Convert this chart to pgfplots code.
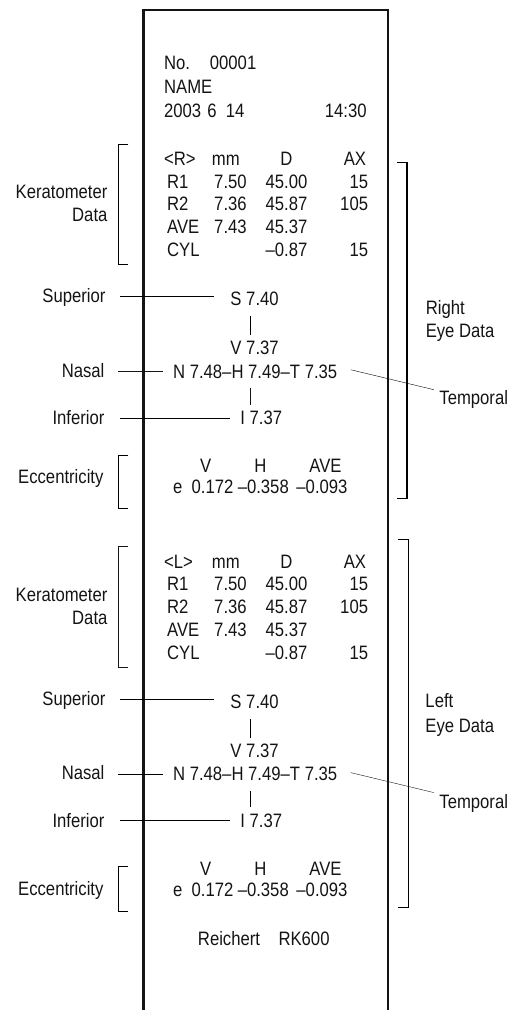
\documentclass[border=0pt]{standalone}
\usepackage{pgfplots}
\pgfplotsset{compat=1.18}
\usepackage{fontspec}
\setmainfont{Liberation Sans}[FakeStretch=0.86]
\definecolor{ink}{HTML}{141414}
\tikzset{lw/.style={anchor=base west}, le/.style={anchor=base east}, lc/.style={anchor=base}}
\begin{document}
\begin{tikzpicture}
\begin{axis}[scale only axis, width=528bp, height=1011bp,
  xmin=0, xmax=528, ymin=0, ymax=1011, y dir=reverse,
  hide axis, clip=false,
  cycle list={{ink, solid, no markers, line width=1.3bp}},
  nodes={font=\fontsize{19.5bp}{21bp}\selectfont, text=ink, inner sep=0pt, outer sep=0pt}]
\path (rel axis cs:0,0) rectangle (rel axis cs:1,1);
% paper strip
\addplot+[line width=2.6bp] coordinates {(144,1015) (144,10) (390,10) (390,1015)};
% ---------- header ----------
\node[lw] at (axis cs:165,70) {No.};
\node[lw] at (axis cs:211,70) {00001};
\node[lw] at (axis cs:165,94) {NAME};
\node[lw] at (axis cs:165,118) {2003};
\node[lw] at (axis cs:208.5,118) {6};
\node[lw] at (axis cs:227,118) {14};
\node[le] at (axis cs:368.5,118) {14:30};
% ---------- brackets ----------
\addplot coordinates {(129,145) (119,145) (119,266) (129,266)};
\addplot coordinates {(129,458) (119,458) (119,511) (129,511)};
\addplot coordinates {(399,163) (409,163) (409,501) (399,501)};
\addplot coordinates {(129,549) (119,549) (119,671) (129,671)};
\addplot coordinates {(129,871) (119,871) (119,916) (129,916)};
\addplot coordinates {(400,542) (410,542) (410,912) (400,912)};
% ---------- connectors (right eye) ----------
\addplot coordinates {(120.7,297.7) (215,297.7)};
\addplot coordinates {(119,373) (164,373)};
\addplot coordinates {(120.7,420) (231.7,420)};
\addplot coordinates {(352.7,371.7) (436,391.7)};
\addplot coordinates {(251.7,318) (251.7,336.7)};
\addplot coordinates {(251.7,390) (251.7,406.7)};
% ---------- connectors (left eye) ----------
\addplot coordinates {(120.7,702.7) (215,702.7)};
\addplot coordinates {(119,778) (164,778)};
\addplot coordinates {(120.7,825) (231.7,825)};
\addplot coordinates {(352.7,776.7) (436,796.7)};
\addplot coordinates {(251.7,723) (251.7,741.7)};
\addplot coordinates {(251.7,795) (251.7,811.7)};
% ---------- right eye text ----------
\node[lw] at (axis cs:165,166) {<R>};
\node[lw] at (axis cs:213,166) {mm};
\node[lc] at (axis cs:288,166) {D};
\node[le] at (axis cs:368,166) {AX};
\node[lw] at (axis cs:168,189) {R1};
\node[le] at (axis cs:248,189) {7.50};
\node[le] at (axis cs:309,189) {45.00};
\node[le] at (axis cs:370,189) {15};
\node[lw] at (axis cs:168,212) {R2};
\node[le] at (axis cs:248,212) {7.36};
\node[le] at (axis cs:309,212) {45.87};
\node[le] at (axis cs:370,212) {105};
\node[lw] at (axis cs:168,235) {AVE};
\node[le] at (axis cs:248,235) {7.43};
\node[le] at (axis cs:309,235) {45.37};
\node[lw] at (axis cs:168,258) {CYL};
\node[le] at (axis cs:309,258) {--0.87};
\node[le] at (axis cs:370,258) {15};
\node[le] at (axis cs:108,200) {Keratometer};
\node[le] at (axis cs:108,223) {Data};
\node[le] at (axis cs:106,304) {Superior};
\node[lw] at (axis cs:231.7,307) {S 7.40};
\node[lw] at (axis cs:231.7,356) {V 7.37};
\node[lw] at (axis cs:174,380) {N 7.48--H 7.49--T 7.35};
\node[le] at (axis cs:105,379) {Nasal};
\node[lw] at (axis cs:241.7,427) {I 7.37};
\node[le] at (axis cs:105,427) {Inferior};
\node[lw] at (axis cs:428,316.5) {Right};
\node[lw] at (axis cs:428,339.5) {Eye Data};
\node[lw] at (axis cs:441.7,406.5) {Temporal};
\node[lc] at (axis cs:206.7,475) {V};
\node[lc] at (axis cs:261.7,475) {H};
\node[le] at (axis cs:343.3,475) {AVE};
\node[lw] at (axis cs:174,496.5) {e};
\node[lw] at (axis cs:192.7,496.5) {0.172};
\node[lw] at (axis cs:239,496.5) {--0.358};
\node[le] at (axis cs:349.3,496.5) {--0.093};
\node[le] at (axis cs:104,486.5) {Eccentricity};
% ---------- left eye text ----------
\node[lw] at (axis cs:165,571) {<L>};
\node[lw] at (axis cs:213,571) {mm};
\node[lc] at (axis cs:288,571) {D};
\node[le] at (axis cs:368,571) {AX};
\node[lw] at (axis cs:168,594) {R1};
\node[le] at (axis cs:248,594) {7.50};
\node[le] at (axis cs:309,594) {45.00};
\node[le] at (axis cs:370,594) {15};
\node[lw] at (axis cs:168,617) {R2};
\node[le] at (axis cs:248,617) {7.36};
\node[le] at (axis cs:309,617) {45.87};
\node[le] at (axis cs:370,617) {105};
\node[lw] at (axis cs:168,640) {AVE};
\node[le] at (axis cs:248,640) {7.43};
\node[le] at (axis cs:309,640) {45.37};
\node[lw] at (axis cs:168,663) {CYL};
\node[le] at (axis cs:309,663) {--0.87};
\node[le] at (axis cs:370,663) {15};
\node[le] at (axis cs:108,605) {Keratometer};
\node[le] at (axis cs:108,628) {Data};
\node[le] at (axis cs:106,709) {Superior};
\node[lw] at (axis cs:231.7,712) {S 7.40};
\node[lw] at (axis cs:231.7,761) {V 7.37};
\node[lw] at (axis cs:174,785) {N 7.48--H 7.49--T 7.35};
\node[le] at (axis cs:105,784) {Nasal};
\node[lw] at (axis cs:241.7,832) {I 7.37};
\node[le] at (axis cs:105,832) {Inferior};
\node[lw] at (axis cs:427.7,711.5) {Left};
\node[lw] at (axis cs:427.7,736) {Eye Data};
\node[lw] at (axis cs:441.7,813) {Temporal};
\node[lc] at (axis cs:206.7,880) {V};
\node[lc] at (axis cs:261.7,880) {H};
\node[le] at (axis cs:343.3,880) {AVE};
\node[lw] at (axis cs:174,901.5) {e};
\node[lw] at (axis cs:192.7,901.5) {0.172};
\node[lw] at (axis cs:239,901.5) {--0.358};
\node[le] at (axis cs:349.3,901.5) {--0.093};
\node[le] at (axis cs:104,900) {Eccentricity};
% footer
\node[lw] at (axis cs:199,950) {Reichert};
\node[lw] at (axis cs:280,950) {RK600};
\end{axis}
\end{tikzpicture}
\end{document}
